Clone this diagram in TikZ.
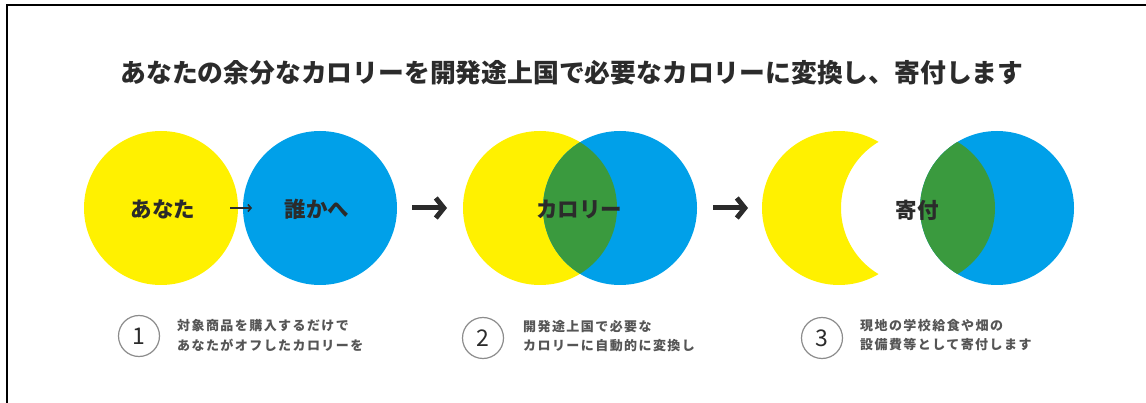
\documentclass[tikz,border=0pt]{standalone}
\usepackage{fontspec}
\newfontfamily\cjk{Noto Sans CJK JP}
\newfontfamily\cjkwide{Noto Sans CJK JP}[LetterSpace=11]
\usetikzlibrary{arrows.meta}
\definecolor{ylw}{HTML}{FFF100}
\definecolor{blu}{HTML}{00A0E9}
\definecolor{grn}{HTML}{3A9A3E}
\definecolor{ink}{HTML}{2B2B2B}
\definecolor{txtgray}{HTML}{555555}
\definecolor{ringgray}{HTML}{8C8C8C}
\tikzset{
  disc/.style={circle, minimum size=154pt, inner sep=0pt},
  lbl/.style={font=\fontsize{21.5}{24}\selectfont\cjk\bfseries, text=ink},
  headline/.style={font=\fontsize{25.8}{28}\selectfont\cjk\bfseries, text=ink},
  bigarrow/.style={draw=ink, line width=5pt, -{Straight Barb[length=8pt,width=20pt]}},
  smallarrow/.style={draw=ink, line width=1.6pt, -{Straight Barb[length=3pt,width=7pt]}},
  numring/.style={circle, draw=ringgray, line width=1.2pt, minimum size=41pt, inner sep=0pt,
    font=\fontsize{23}{24}\selectfont\cjk, text=ink},
  stepnote/.style={anchor=west, align=left, inner sep=0pt, text=txtgray,
    font=\fontsize{13}{19.5}\selectfont\cjkwide\bfseries}
}
\begin{document}
\begin{tikzpicture}[x=1pt, y=-1pt]
  \useasboundingbox (0,0) rectangle (1146,403);
  \fill[white] (0,0) rectangle (1146,403);
  \draw[line width=2pt] (7,403) -- (7,5) -- (1146,5);

  \node[headline] (head) at (572,73) {あなたの余分なカロリーを開発途上国で必要なカロリーに変換し、寄付します};

  % step 1
  \node[disc, fill=ylw] (you) at (161,208) {};
  \node[disc, fill=blu] (someone) at (320,208) {};
  % step 2
  \node[disc, fill=ylw] (calY) at (540,208) {};
  \node[disc, fill=blu] (calB) at (620,208) {};
  \begin{scope}
    \clip (calY.center) circle (77);
    \fill[grn] (calB.center) circle (77);
  \end{scope}
  % step 3
  \coordinate (gift) at (918,208);
  \coordinate (moonY) at (839,208);
  \begin{scope}
    \clip (700,0) rectangle (878.5,403);
    \fill[ylw, even odd rule] (moonY) circle (77) (gift) circle (77);
  \end{scope}
  \node[disc, fill=blu] (giftB) at (997,208) {};
  \begin{scope}
    \clip (giftB.center) circle (77);
    \fill[grn] (gift) circle (77);
  \end{scope}

  \node[lbl] (anata) at (163,209) {あなた};
  \node[lbl] (dareka) at (317,209) {誰かへ};
  \node[lbl] (calorie) at (579,209) {カロリー};
  \node[lbl] (kifu) at (917,210) {寄付};

  \coordinate (s0) at (230,208);
  \coordinate (e0) at (252,208);
  \coordinate (s1) at (412,208);
  \coordinate (e1) at (447,208);
  \coordinate (s2) at (713,208);
  \coordinate (e2) at (748,208);
  \draw[smallarrow] (s0) -- (e0);
  \draw[bigarrow] (s1) -- (e1);
  \draw[bigarrow] (s2) -- (e2);

  \node[numring] (n1) at (139,336) {1};
  \node[numring] (n2) at (483,338) {2};
  \node[numring] (n3) at (822,338) {3};
  \node[stepnote] (t1) at (177,335.5) {対象商品を購入するだけで\\あなたがオフしたカロリーを};
  \node[stepnote] (t2) at (523,336) {開発途上国で必要な\\カロリーに自動的に変換し};
  \node[stepnote] (t3) at (860,335) {現地の学校給食や畑の\\設備費等として寄付します};
\end{tikzpicture}
\end{document}
